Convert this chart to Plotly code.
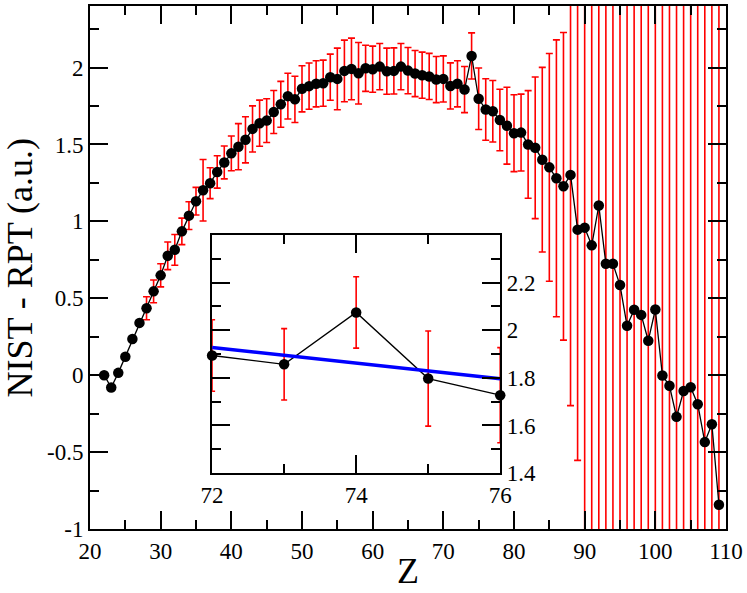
import plotly.graph_objects as go

# ---------------- data ----------------
Z = list(range(22, 110))
diff = [0.00, -0.08, 0.015, 0.12, 0.235, 0.34, 0.435, 0.545, 0.649, 0.776,
        0.815, 0.935, 1.037, 1.131, 1.202, 1.248, 1.321, 1.383, 1.442, 1.485,
        1.530, 1.601, 1.638, 1.655, 1.711, 1.761, 1.814, 1.793, 1.862, 1.879,
        1.894, 1.898, 1.937, 1.926, 1.978, 1.991, 1.963, 1.995, 1.989, 2.006,
        1.976, 1.978, 2.006, 1.980, 1.961, 1.950, 1.942, 1.922, 1.926, 1.880,
        1.894, 1.857, 2.075, 1.797, 1.727, 1.716, 1.659, 1.622, 1.573, 1.577,
        1.500, 1.478, 1.401, 1.351, 1.280, 1.228, 1.302, 0.946, 0.959, 0.844,
        1.103, 0.724, 0.724, 0.586, 0.321, 0.425, 0.392, 0.224, 0.427, -0.002,
        -0.069, -0.271, -0.103, -0.078, -0.189, -0.435, -0.319, -0.842]
err = [0, 0, 0, 0, 0, 0, 0.075, 0.074, 0.075, 0.09,
       0.10, 0.086, 0.09, 0.09, 0.20, 0.10, 0.105, 0.107, 0.113, 0.15,
       0.15, 0.15, 0.15, 0.142, 0.14, 0.149, 0.149, 0.15, 0.15, 0.15,
       0.15, 0.15, 0.15, 0.2, 0.2, 0.2, 0.2, 0.15, 0.15, 0.15,
       0.15, 0.15, 0.15, 0.15, 0.15, 0.15, 0.15, 0.15, 0.15, 0.15,
       0.15, 0.15, 0.15, 0.2, 0.2, 0.2, 0.2, 0.25, 0.25, 0.25,
       0.35, 0.46, 0.6, 0.74, 0.9, 1.0, 1.5, 1.5, 2.0, 2.1,
       2.2, 2.3, 2.4, 2.5, 2.6, 2.7, 2.8, 2.9, 3.0, 3.1,
       3.2, 3.3, 3.4, 3.5, 3.6, 3.7, 3.8, 3.9]

inset_lo, inset_hi = 72, 76
fit_x = [72, 76]
fit_y = [1.928, 1.796]

main_xticks = [20, 30, 40, 50, 60, 70, 80, 90, 100, 110]
main_xtext = ["20", "30", "40", "50", "60", "70", "80", "90", "100", "110"]
main_yticks = [-1, -0.5, 0, 0.5, 1, 1.5, 2]
main_ytext = ["-1", "-0.5", "0", "0.5", "1", "1.5", "2"]
inset_xticks = [72, 74, 76]
inset_xtext = ["72", "74", "76"]
inset_yticks = [1.4, 1.6, 1.8, 2.0, 2.2]
inset_ytext = ["1.4", "1.6", "1.8", "2", "2.2"]

# ---------------- figure ----------------
i0 = Z.index(inset_lo)
i1 = Z.index(inset_hi) + 1
Zi, Di, Ei = Z[i0:i1], diff[i0:i1], err[i0:i1]

FONT = "Liberation Serif, Times New Roman, DejaVu Serif, serif"
fig = go.Figure()

fig.add_trace(go.Scatter(x=Z, y=diff, mode="lines",
                         line=dict(color="black", width=1.3),
                         error_y=dict(type="data", array=err, visible=True,
                                      color="red", thickness=1.6, width=3.5),
                         showlegend=False, xaxis="x", yaxis="y"))
fig.add_trace(go.Scatter(x=Z, y=diff, mode="markers",
                         marker=dict(color="black", size=10.5),
                         showlegend=False, xaxis="x", yaxis="y"))

fig.add_trace(go.Scatter(x=Zi, y=Di, mode="lines",
                         line=dict(color="black", width=1.3),
                         error_y=dict(type="data", array=Ei, visible=True,
                                      color="red", thickness=1.6, width=3),
                         showlegend=False, xaxis="x2", yaxis="y2"))
fig.add_trace(go.Scatter(x=fit_x, y=fit_y, mode="lines",
                         line=dict(color="#0000ff", width=3.5),
                         showlegend=False, xaxis="x2", yaxis="y2"))
fig.add_trace(go.Scatter(x=Zi, y=Di, mode="markers",
                         marker=dict(color="black", size=10.5),
                         cliponaxis=False,
                         showlegend=False, xaxis="x2", yaxis="y2"))

tick_common = dict(ticks="inside", ticklen=18, tickwidth=2, tickcolor="black",
                   showline=True, linewidth=2, linecolor="black", mirror="ticks",
                   showgrid=False, zeroline=False,
                   tickfont=dict(family=FONT, size=23, color="black"))

fig.update_layout(
    width=747, height=593,
    margin=dict(l=90, r=20, t=4, b=64),
    paper_bgcolor="white", plot_bgcolor="white",
    xaxis=dict(domain=[0, 1], range=[20, 110], anchor="y",
               tickmode="array", tickvals=main_xticks, ticktext=main_xtext,
               minor=dict(tickmode="linear", tick0=0, dtick=5, ticks="inside",
                          ticklen=9, tickwidth=2, tickcolor="black"),
               **tick_common),
    yaxis=dict(domain=[0, 1], range=[-1, 2.4], anchor="x",
               tickmode="array", tickvals=main_yticks, ticktext=main_ytext,
               minor=dict(tickmode="linear", tick0=0, dtick=0.25, ticks="inside",
                          ticklen=9, tickwidth=2, tickcolor="black"),
               **tick_common),
    xaxis2=dict(domain=[0.192, 0.645], range=[72, 76], anchor="y2",
                tickmode="array", tickvals=inset_xticks, ticktext=inset_xtext,
                minor=dict(tickmode="linear", tick0=0, dtick=1, ticks="inside",
                           ticklen=9, tickwidth=2, tickcolor="black"),
                **tick_common),
    yaxis2=dict(domain=[0.107, 0.562], range=[1.4, 2.4], anchor="x2", side="right",
                tickmode="array", tickvals=inset_yticks, ticktext=inset_ytext,
                minor=dict(tickmode="linear", tick0=0, dtick=0.1, ticks="inside",
                           ticklen=9, tickwidth=2, tickcolor="black"),
                **tick_common),
    annotations=[
        dict(text="NIST - RPT (a.u.)", xref="paper", yref="paper",
             x=-0.1115, y=0.5, xanchor="center", yanchor="middle",
             textangle=-90, showarrow=False,
             font=dict(family=FONT, size=36, color="black")),
        dict(text="Z", xref="paper", yref="paper",
             x=0.5, y=-0.080, xanchor="center", yanchor="middle",
             showarrow=False,
             font=dict(family=FONT, size=36, color="black")),
    ],
)

fig.write_html("out.html",
               config={"displayModeBar": False},
               post_script="document.body.style.margin='0';document.body.style.overflow='hidden';")
